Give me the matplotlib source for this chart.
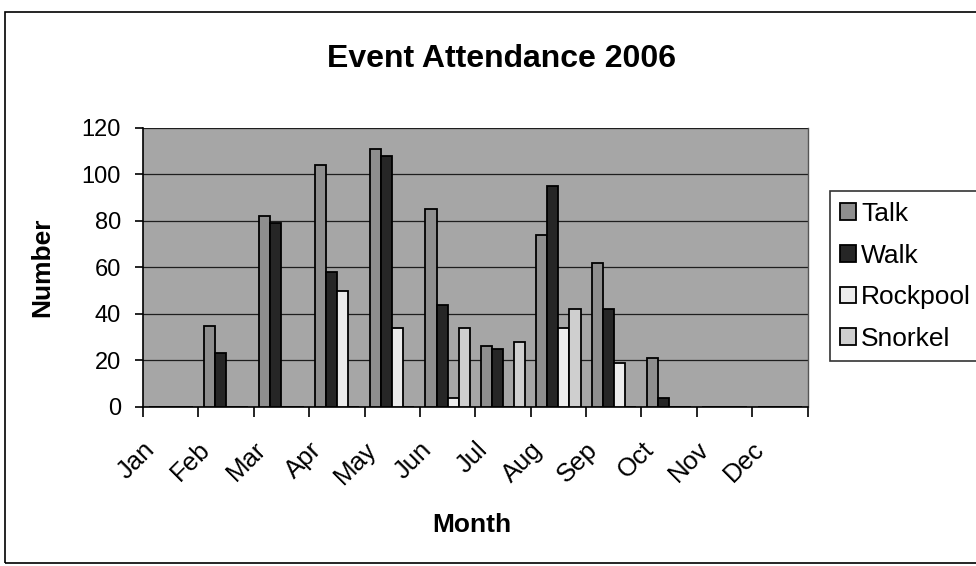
import numpy as np
import matplotlib.pyplot as plt
from matplotlib.patches import Rectangle

plt.rcParams['font.family'] = ['Liberation Sans', 'DejaVu Sans']

# Dữ liệu
months = ['Jan', 'Feb', 'Mar', 'Apr', 'May', 'Jun', 'Jul', 'Aug', 'Sep', 'Oct', 'Nov', 'Dec']
talk = [0, 35, 82, 104, 111, 85, 26, 74, 62, 21, 0, 0]
walk = [0, 23, 79, 58, 108, 44, 25, 95, 42, 4, 0, 0]
rockpool = [0, 0, 0, 50, 34, 4, 0, 34, 19, 0, 0, 0]
snorkel = [0, 0, 0, 0, 0, 34, 28, 42, 0, 0, 0, 0]

series = [('Talk', talk, '#8e8e8e'),
          ('Walk', walk, '#262626'),
          ('Rockpool', rockpool, '#ececec'),
          ('Snorkel', snorkel, '#cfcfcf')]

fig = plt.figure(figsize=(9.76, 5.66), dpi=100)
# khung ngoài của biểu đồ
fig.patches.append(Rectangle((0.005, 0.006), 1.2, 0.973, transform=fig.transFigure,
                             fill=False, edgecolor='black', linewidth=1.2))

ax = fig.add_axes([0.1465, 0.281, 0.681, 0.493])
ax.set_facecolor('#a6a6a6')

x = np.arange(len(months))
w = 0.2
for i, (name, vals, col) in enumerate(series):
    ax.bar(x + (i - 1.5) * w, vals, width=w, color=col, edgecolor='black',
           linewidth=1.3, label=name, zorder=3)

ax.set_xlim(-0.5, len(months) - 0.5)
ax.set_ylim(0, 120)
ax.set_yticks(np.arange(0, 121, 20))
ax.yaxis.grid(True, color='#1e1e1e', linewidth=0.9, zorder=1)
ax.set_axisbelow(True)

ax.set_xticks(np.arange(-0.5, len(months)), minor=False)
ax.set_xticklabels([])
ax.set_xticks(x - 0.2, minor=True)
ax.set_xticklabels(months, minor=True, rotation=45, ha='right', va='top', fontsize=18.5)
ax.tick_params(axis='x', which='minor', length=0, pad=22)
ax.tick_params(axis='x', which='major', length=7, width=1.2)
ax.tick_params(axis='y', labelsize=17, length=6, width=1.2, pad=10)

for s in ['top', 'right']:
    ax.spines[s].set_visible(False)
ax.spines['left'].set_linewidth(1.2)
ax.spines['bottom'].set_linewidth(1.2)
ax.plot([1, 1], [0, 1], transform=ax.transAxes, color='#555555', linewidth=1, clip_on=False)

ax.set_ylabel('Number', fontsize=19, fontweight='bold')
ax.yaxis.set_label_coords(-0.133, 0.5)
fig.text(0.483, 0.06, 'Month', fontsize=19, fontweight='bold', ha='center')
fig.text(0.514, 0.882, 'Event Attendance 2006', fontsize=23, fontweight='bold', ha='center')

leg = fig.legend(loc='upper left', bbox_to_anchor=(0.85, 0.662), fontsize=19,
                 frameon=True, fancybox=False, edgecolor='black', handlelength=0.6,
                 handleheight=0.6, handletextpad=0.2, labelspacing=0.67, borderpad=0.4,
                 borderaxespad=0)
leg.get_frame().set_linewidth(1.2)

plt.savefig('out.png', dpi=100)
